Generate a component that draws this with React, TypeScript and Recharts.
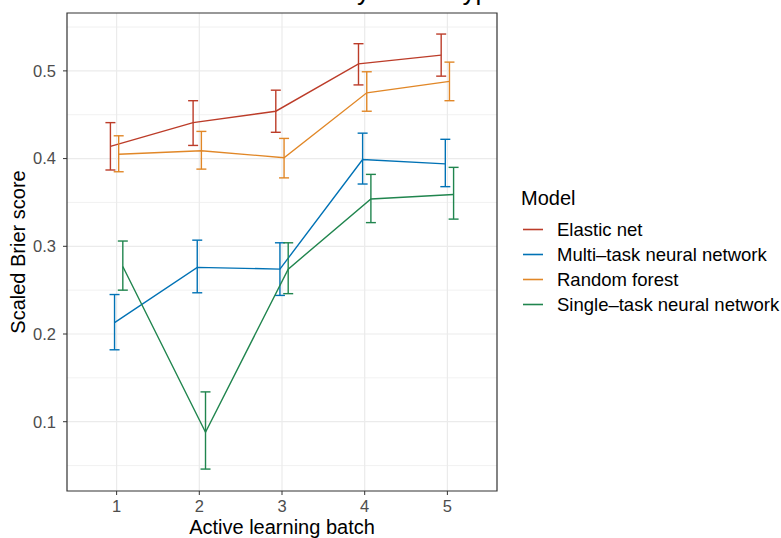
import React from 'react'
import {
  CartesianGrid,
  ComposedChart,
  ErrorBar,
  Line,
  ReferenceArea,
  XAxis,
  YAxis
} from 'recharts'

const batches = [1, 2, 3, 4, 5]
const models = [
  'Elastic net',
  'Multi–task neural network',
  'Random forest',
  'Single–task neural network'
]
const colors = ['#BC3C29', '#0072B5', '#E18727', '#20854E']
const dodge = [-0.075, -0.025, 0.025, 0.075]

const elasticMean = [0.414, 0.441, 0.454, 0.508, 0.518]
const elasticLow = [0.387, 0.415, 0.43, 0.484, 0.494]
const elasticHigh = [0.441, 0.466, 0.478, 0.531, 0.542]

const multiMean = [0.213, 0.276, 0.274, 0.399, 0.394]
const multiLow = [0.182, 0.247, 0.244, 0.371, 0.368]
const multiHigh = [0.245, 0.307, 0.304, 0.429, 0.422]

const forestMean = [0.405, 0.409, 0.401, 0.475, 0.488]
const forestLow = [0.385, 0.388, 0.378, 0.454, 0.466]
const forestHigh = [0.426, 0.431, 0.423, 0.499, 0.51]

const singleMean = [0.277, 0.088, 0.274, 0.354, 0.359]
const singleLow = [0.25, 0.046, 0.246, 0.327, 0.331]
const singleHigh = [0.306, 0.134, 0.304, 0.382, 0.39]

const yTicks = [0.1, 0.2, 0.3, 0.4, 0.5]
const yMinor = [0.05, 0.15, 0.25, 0.35, 0.45, 0.55]
const xDomain = [0.4, 5.6]
const yDomain = [0.021, 0.566]

const seriesValues = [
  [elasticMean, elasticLow, elasticHigh],
  [multiMean, multiLow, multiHigh],
  [forestMean, forestLow, forestHigh],
  [singleMean, singleLow, singleHigh]
]

const series = models.map((name, m) => {
  const [mean, low, high] = seriesValues[m]
  return {
    name,
    color: colors[m],
    data: batches.map((b, i) => ({
      x: b + dodge[m],
      y: mean[i],
      err: [mean[i] - low[i], high[i] - mean[i]]
    }))
  }
})

const font = '"Liberation Sans", Arial, Helvetica, sans-serif'

function ModelLegend() {
  return (
    <div style={{ position: 'absolute', left: 521, top: 186, fontFamily: font, color: '#000' }}>
      <div style={{ fontSize: 20, lineHeight: '24px', marginBottom: 7 }}>Model</div>
      {series.map((s) => (
        <div key={s.name} style={{ display: 'flex', alignItems: 'center', height: 25 }}>
          <svg width={36} height={25} style={{ display: 'block' }}>
            <line x1={2} x2={22} y1={12.5} y2={12.5} stroke={s.color} strokeWidth={1.6} />
          </svg>
          <span style={{ fontSize: 18.5, whiteSpace: 'nowrap' }}>{s.name}</span>
        </div>
      ))}
    </div>
  )
}

export default function App() {
  return (
    <div style={{ position: 'absolute', left: 0, top: 0, width: 781, height: 538, overflow: 'hidden', background: '#fff', fontFamily: font }}>
      <div style={{ position: 'absolute', left: 123, top: -22.5, fontSize: 26, lineHeight: 1, whiteSpace: 'nowrap', color: '#000' }}>
        Scaled Brier score by model type
      </div>
      <ComposedChart width={781} height={538} margin={{ top: 13, right: 284, bottom: 0, left: 0 }}>
        <CartesianGrid horizontalValues={yMinor} vertical={false} stroke="#EBEBEB" strokeWidth={0.7} />
        <CartesianGrid horizontalValues={yTicks} verticalValues={batches} stroke="#EBEBEB" strokeWidth={1.2} />
        <XAxis
          dataKey="x"
          type="number"
          domain={xDomain}
          ticks={batches}
          allowDataOverflow
          height={47}
          tickSize={4}
          tickMargin={5}
          axisLine={false}
          tickLine={{ stroke: '#333333' }}
          tick={{ fill: '#4D4D4D', fontSize: 16.5, fontFamily: font }}
          label={{ value: 'Active learning batch', position: 'insideBottom', offset: 4, fill: '#000', fontSize: 20, fontFamily: font }}
        />
        <YAxis
          type="number"
          domain={yDomain}
          ticks={yTicks}
          allowDataOverflow
          width={67}
          tickSize={4}
          tickMargin={7}
          axisLine={false}
          tickLine={{ stroke: '#333333' }}
          tickFormatter={(v) => Number(v).toFixed(1)}
          tick={{ fill: '#4D4D4D', fontSize: 16.5, fontFamily: font }}
          label={{ value: 'Scaled Brier score', angle: -90, position: 'insideLeft', offset: 18, fill: '#000', fontSize: 20, fontFamily: font, style: { textAnchor: 'middle' } }}
        />
        {series.map((s) => (
          <Line
            key={s.name}
            data={s.data}
            dataKey="y"
            name={s.name}
            type="linear"
            stroke={s.color}
            strokeWidth={1.4}
            dot={false}
            activeDot={false}
            isAnimationActive={false}
          >
            <ErrorBar dataKey="err" direction="y" width={5} stroke={s.color} strokeWidth={1.4} isAnimationActive={false} />
          </Line>
        ))}
        <ReferenceArea x1={xDomain[0]} x2={xDomain[1]} y1={yDomain[0]} y2={yDomain[1]} fill="none" stroke="#333333" strokeWidth={1.2} />
      </ComposedChart>
      <ModelLegend />
    </div>
  )
}
